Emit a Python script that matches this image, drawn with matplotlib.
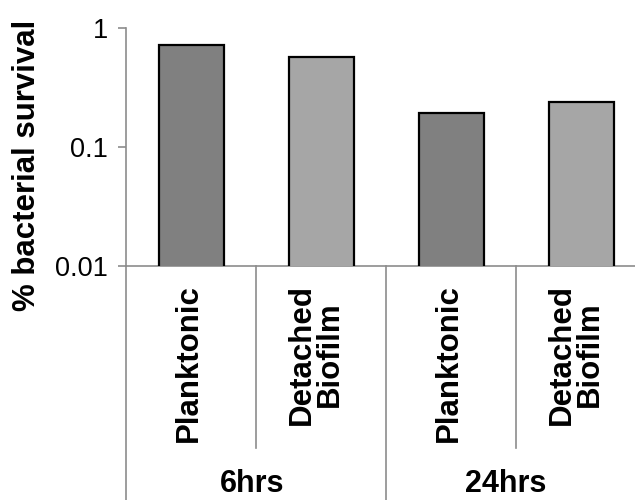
import matplotlib
matplotlib.use("Agg")
import matplotlib.pyplot as plt
import matplotlib.transforms as mtransforms
from matplotlib.lines import Line2D

plt.rcParams['font.family'] = ['Liberation Sans', 'DejaVu Sans']

categories = ["Planktonic", "Detached\nBiofilm", "Planktonic", "Detached\nBiofilm"]
groups = ["6hrs", "24hrs"]
values = [0.72, 0.567, 0.192, 0.238]
colors = ["#808080", "#A6A6A6", "#808080", "#A6A6A6"]
ytick_vals = [0.01, 0.1, 1]
ytick_labels = ["0.01", "0.1", "1"]

W, H = 635, 500
fig = plt.figure(figsize=(W / 100, H / 100), dpi=100)
left, right, top, bottom = 126, 646, 28, 266
ax = fig.add_axes([left / W, 1 - bottom / H, (right - left) / W, (bottom - top) / H])

x = list(range(len(values)))
ax.bar(x, values, width=0.5, color=colors, edgecolor="black", linewidth=1.6, zorder=3)
ax.set_yscale("log")
ax.set_ylim(0.01, 1)
ax.set_xlim(-0.5, len(values) - 0.5)
ax.set_yticks(ytick_vals)
ax.set_yticklabels(ytick_labels)
ax.yaxis.set_minor_locator(matplotlib.ticker.NullLocator())
ax.set_xticks([])
gray = "#8C8C8C"
for s in ["top", "right"]:
    ax.spines[s].set_visible(False)
for s in ["left", "bottom"]:
    ax.spines[s].set_color(gray)
    ax.spines[s].set_linewidth(1.2)
ax.tick_params(axis="y", direction="out", length=6, width=1.2, color=gray,
               labelsize=19.5, pad=7, labelcolor="black")

# separators below axis
trans = mtransforms.blended_transform_factory(ax.transData, fig.transFigure)
short_y = 1 - 448 / H
long_y = 0.0
base_y = 1 - bottom / H
for xi in [-0.5, 0.5, 1.5, 2.5, 3.5]:
    is_group = xi in (-0.5, 1.5, 3.5)
    yb = long_y if is_group else short_y
    fig.add_artist(Line2D([xi, xi], [base_y, yb], transform=trans, color=gray,
                          linewidth=1.2, clip_on=False))

# category labels
for xi, lab in zip(x, categories):
    fig.text(xi - (0.04 if "\n" in lab else 0.015), 1 - 284 / H, lab, transform=trans,
             rotation=90, ha="center", va="top", multialignment="center",
             fontsize=22.5, fontweight="bold", linespacing=0.95)

# group labels
group_pos = [0.47, 2.42]
for gx, g in zip(group_pos, groups):
    fig.text(gx, 1 - 499 / H, g, transform=trans, ha="center", va="bottom",
             fontsize=22, fontweight="bold")

fig.text(27 / W, 1 - 165 / H, "% bacterial survival", rotation=90, ha="center",
         va="center", fontsize=22.5, fontweight="bold")

fig.savefig("out.png", dpi=100)
